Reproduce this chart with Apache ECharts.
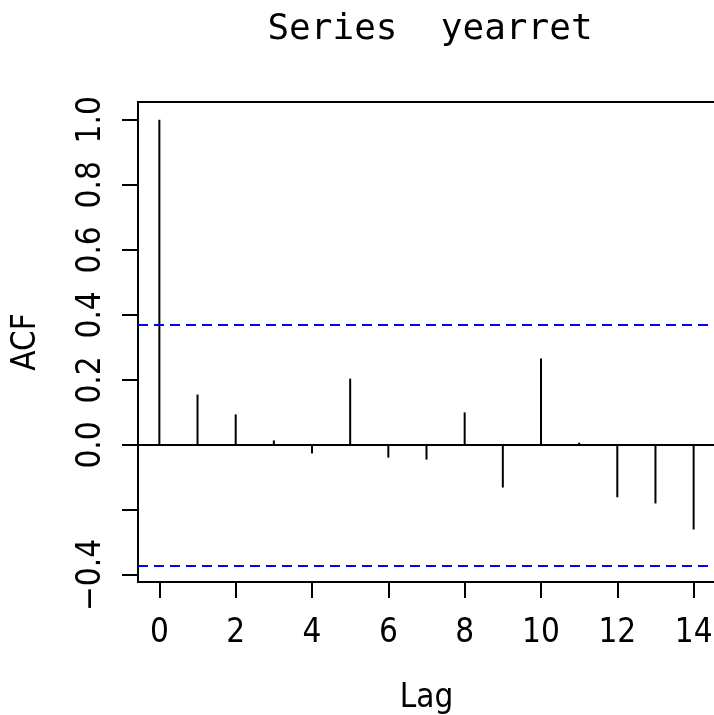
<!DOCTYPE html>
<html lang="en">
  <head>
    <meta charset="UTF-8" />
    <title>Series yearret</title>
    <style>
      html, body { margin: 0; padding: 0; background: #fff; }
      #main { width: 714px; height: 715px; }
    </style>
  </head>
  <body>
    <div id="main"></div>
    <script src="https://cdn.jsdelivr.net/npm/echarts@6.0.0/dist/echarts.min.js"></script>
    <script>
      // acf values
      var lags = [0, 1, 2, 3, 4, 5, 6, 7, 8, 9, 10, 11, 12, 13, 14];
      var acfVals = [1.0, 0.155, 0.094, 0.014, -0.026, 0.204, -0.039, -0.045,
                     0.100, -0.131, 0.266, 0.007, -0.161, -0.180, -0.260];
      var clim = 0.3704;
      var xTicks = [0, 2, 4, 6, 8, 10, 12, 14];
      var yTicks = [-0.4, -0.2, 0, 0.2, 0.4, 0.6, 0.8, 1.0];
      var yLabelTicks = [-0.4, 0, 0.2, 0.4, 0.6, 0.8, 1.0]; // R drops -0.2 (overlap)

      var labelFont = '"Liberation Sans Narrow", "DejaVu Sans Condensed", "Noto Sans CJK JP", sans-serif';

      var chart = echarts.init(document.getElementById("main"));
      chart.setOption({
        animation: false,
        title: {
          text: "Series  yearret",
          left: 425,
          textAlign: "center",
          top: 7,
          textStyle: {
            fontFamily: '"DejaVu Sans Mono", monospace',
            fontSize: 36,
            fontWeight: "normal",
            color: "#000"
          }
        },
        grid: {
          left: 138,
          right: -1,
          top: 102,
          bottom: 133,
          outerBoundsMode: "none",
          containLabel: false,
          show: true,
          borderColor: "#000",
          borderWidth: 2,
          backgroundColor: "transparent"
        },
        xAxis: {
          type: "value",
          min: -0.56,
          max: 14.56,
          name: "Lag",
          nameLocation: "middle",
          nameGap: 100,
          nameTextStyle: { fontFamily: labelFont, fontSize: 33, color: "#000" },
          axisLine: { show: false, onZero: false },
          splitLine: { show: false },
          axisTick: {
            show: true,
            customValues: xTicks,
            length: 16,
            lineStyle: { color: "#000", width: 2 }
          },
          axisLabel: {
            customValues: xTicks,
            margin: 35,
            fontFamily: labelFont,
            fontSize: 33,
            color: "#000"
          }
        },
        yAxis: {
          type: "value",
          min: -0.4215,
          max: 1.0547,
          name: "ACF",
          nameLocation: "middle",
          nameRotate: 90,
          nameGap: 95,
          nameTextStyle: { fontFamily: labelFont, fontSize: 33, color: "#000" },
          axisLine: { show: false, onZero: false },
          splitLine: { show: false },
          axisTick: {
            show: true,
            customValues: yTicks,
            length: 16,
            lineStyle: { color: "#000", width: 2 }
          },
          axisLabel: {
            customValues: yLabelTicks,
            rotate: 90,
            margin: 30,
            fontFamily: labelFont,
            fontSize: 33,
            color: "#000",
            formatter: function (v) {
              var s = v.toFixed(1);
              return v < 0 ? "\u2212" + s.slice(1) : s;
            }
          }
        },
        series: [
          {
            type: "bar",
            barWidth: 2,
            itemStyle: { color: "#000" },
            data: lags.map(function (l, i) { return [l, acfVals[i]]; }),
            markLine: {
              silent: true,
              symbol: "none",
              label: { show: false },
              data: [
                { yAxis: 0, lineStyle: { color: "#000", width: 2, type: "solid" } },
                { yAxis: clim, lineStyle: { color: "#0000ff", width: 2, type: [10, 6] } },
                { yAxis: -clim, lineStyle: { color: "#0000ff", width: 2, type: [10, 6] } }
              ]
            }
          }
        ]
      });
    </script>
  </body>
</html>
